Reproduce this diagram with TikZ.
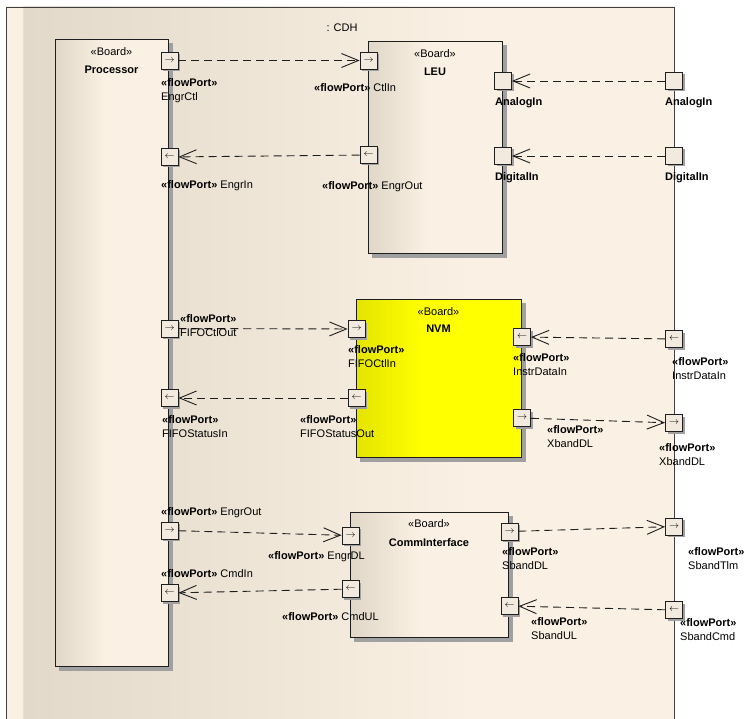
\documentclass[tikz,border=0pt]{standalone}
\usepackage{fontspec}
\setmainfont{Liberation Sans}
\usepackage{xcolor}
\usepackage{tikz}
\usetikzlibrary{arrows.meta, positioning, calc, backgrounds}

\definecolor{cream}{RGB}{250,240,227}
\definecolor{frameL}{RGB}{226,217,202}
\definecolor{boardL}{RGB}{224,215,200}
\definecolor{yellowL}{RGB}{228,228,0}
\definecolor{portfill}{RGB}{242,234,222}
\definecolor{shadowgrey}{RGB}{160,160,160}
\definecolor{edge}{RGB}{30,30,30}

\pgfdeclarehorizontalshading{frameshade}{100bp}{color(0bp)=(cream); color(26.2bp)=(cream); color(26.3bp)=(frameL); color(60bp)=(cream); color(100bp)=(cream)}
\pgfdeclarehorizontalshading{boardshade}{100bp}{color(0bp)=(boardL); color(25bp)=(boardL); color(47bp)=(cream); color(100bp)=(cream)}
\pgfdeclarehorizontalshading{nvmshade}{100bp}{color(0bp)=(yellowL); color(25bp)=(yellowL); color(45bp)=(yellow); color(100bp)=(yellow)}

\newcommand{\flowport}{\textbf{«flowPort»}}

\begin{document}
\begin{tikzpicture}[x=1pt, y=-1pt,
    every node/.style={font=\fontsize{11}{14}\selectfont},
    cdhframe/.style={draw=edge!85, line width=0.8pt, shading=frameshade, inner sep=0pt},
    board/.style={draw=edge, line width=1pt, shading=boardshade, inner sep=0pt},
    port/.style={draw=edge, line width=0.8pt, fill=portfill, minimum size=17pt, inner sep=0pt,
        font=\fontsize{10}{10}\selectfont},
    lbl/.style={anchor=north west, inner sep=0pt, align=left},
    flow/.style={draw=edge, line width=0.9pt, dash pattern=on 8pt off 5pt,
        -{Straight Barb[length=17pt, width=14pt]}}]
    \useasboundingbox (0,0) rectangle (744,719);

    % CDH frame
    \begin{scope}[on background layer]
        \node (cdh) [cdhframe, minimum width=668pt, minimum height=718pt] at (340,366) {};
    \end{scope}
    \node (cdhTitle) at (342,28) {: CDH};

    % Boards
    \node (proc) [board, minimum width=113pt, minimum height=626pt] at (111.5,353) {};
    \node (procStereo) at ($(proc.north)+(0,12)$) {«Board»};
    \node (procName) at ($(proc.north)+(0,30)$) {\textbf{Processor}};

    \node (leu) [board, minimum width=134pt, minimum height=212pt] at (435,148) {};
    \node (leuStereo) at ($(leu.north)+(0,12)$) {«Board»};
    \node (leuName) at ($(leu.north)+(0,30)$) {\textbf{LEU}};

    \node (nvm) [board, shading=nvmshade, minimum width=165pt, minimum height=158pt] at (438.5,378) {};
    \node (nvmStereo) at ($(nvm.north)+(0,13)$) {«Board»};
    \node (nvmName) at ($(nvm.north)+(0,30)$) {\textbf{NVM}};

    \node (com) [board, minimum width=158pt, minimum height=125pt] at (429,574.5) {};
    \node (comStereo) at ($(com.north)+(0,12)$) {«Board»};
    \node (comName) at ($(com.north)+(0,31)$) {\textbf{CommInterface}};

    % board shadows, above the frame
    \begin{scope}[on background layer]
        \foreach \b in {proc,leu,nvm,com}
            \fill [shadowgrey] ($(\b.south west)+(4,4)$) rectangle ($(\b.north east)+(4,4)$);
    \end{scope}

    % Ports: name / x / y / glyph
    \foreach \name/\x/\y/\g in {
        procEngrCtl/169.5/60.5/\rightarrow, procEngrIn/169.5/157/\leftarrow,
        procFIFOCtlOut/169.5/328.5/\rightarrow, procFIFOStatusIn/169.5/398/\leftarrow,
        procEngrOut/169.5/530.5/\rightarrow, procCmdIn/169.5/593/\leftarrow,
        leuCtlIn/368.5/60.5/\rightarrow, leuEngrOut/368.5/155/\leftarrow,
        leuAnalogIn/503/81/\relax, leuDigitalIn/503/156/\relax,
        nvmFIFOCtlIn/356.5/329/\rightarrow, nvmFIFOStatusOut/356.5/398/\leftarrow,
        nvmInstrDataIn/522/337/\leftarrow, nvmXbandDL/522/418/\rightarrow,
        comEngrDL/350.5/535.5/\rightarrow, comCmdUL/350.5/589/\leftarrow,
        comSbandDL/509.5/531.5/\rightarrow, comSbandUL/509.5/606/\leftarrow,
        cdhAnalogIn/674/81/\relax, cdhDigitalIn/674/156/\relax,
        cdhInstrDataIn/674/339/\leftarrow, cdhXbandDL/674/423/\rightarrow,
        cdhSbandTlm/674/526.5/\rightarrow, cdhSbandCmd/674/610/\leftarrow} {
        \fill [shadowgrey] (\x-6.5,\y-6.5) rectangle ++(17,17);
        \node (\name) [port] at (\x,\y) {$\g$};
    }

    % Flows
    \draw [flow] (procEngrCtl) -- (leuCtlIn);
    \draw [flow] (leuEngrOut) -- (procEngrIn);
    \draw [flow] (cdhAnalogIn) -- (leuAnalogIn);
    \draw [flow] (cdhDigitalIn) -- (leuDigitalIn);
    \draw [flow] (procFIFOCtlOut) -- (nvmFIFOCtlIn);
    \draw [flow] (nvmFIFOStatusOut) -- (procFIFOStatusIn);
    \draw [flow] (cdhInstrDataIn) -- (nvmInstrDataIn);
    \draw [flow] (nvmXbandDL) -- (cdhXbandDL);
    \draw [flow] (procEngrOut) -- (comEngrDL);
    \draw [flow] (comCmdUL) -- (procCmdIn);
    \draw [flow] (comSbandDL) -- (cdhSbandTlm);
    \draw [flow] (cdhSbandCmd) -- (comSbandUL);

    % Port labels
    \node (lEngrCtl) [lbl] at (161,78.5) {\flowport\\EngrCtl};
    \node (lEngrIn) [lbl] at (161,180.5) {\flowport{} EngrIn};
    \node (lFIFOCtlOut) [lbl] at (180,314.5) {\flowport\\FIFOCtlOut};
    \node (lFIFOStatusIn) [lbl] at (162,415.5) {\flowport\\FIFOStatusIn};
    \node (lEngrOut) [lbl] at (161,507.5) {\flowport{} EngrOut};
    \node (lCmdIn) [lbl] at (161,569.5) {\flowport{} CmdIn};

    \node (lCtlIn) [lbl] at (314,83.5) {\flowport{} CtlIn};
    \node (lLeuEngrOut) [lbl] at (322,181.5) {\flowport{} EngrOut};
    \node (lAnalogIn) [lbl] at (495,97.5) {\textbf{AnalogIn}};
    \node (lDigitalIn) [lbl] at (495,172.5) {\textbf{DigitalIn}};
    \node (lCdhAnalogIn) [lbl] at (665,97.5) {\textbf{AnalogIn}};
    \node (lCdhDigitalIn) [lbl] at (665,172.5) {\textbf{DigitalIn}};

    \node (lFIFOCtlIn) [lbl] at (348,345.5) {\flowport\\FIFOCtlIn};
    \node (lFIFOStatusOut) [lbl] at (300,415.5) {\flowport\\FIFOStatusOut};
    \node (lInstrDataIn) [lbl] at (513,353.5) {\flowport\\InstrDataIn};
    \node (lXbandDL) [lbl] at (547,425.5) {\flowport\\XbandDL};
    \node (lCdhInstrDataIn) [lbl] at (672,357.5) {\flowport\\InstrDataIn};
    \node (lCdhXbandDL) [lbl] at (659,443.5) {\flowport\\XbandDL};

    \node (lEngrDL) [lbl] at (268,551.5) {\flowport{} EngrDL};
    \node (lCmdUL) [lbl] at (282,612.5) {\flowport{} CmdUL};
    \node (lSbandDL) [lbl] at (502,547.5) {\flowport\\SbandDL};
    \node (lSbandUL) [lbl] at (531,617.5) {\flowport\\SbandUL};
    \node (lSbandTlm) [lbl] at (688,547.5) {\flowport\\SbandTlm};
    \node (lSbandCmd) [lbl] at (680,618.5) {\flowport\\SbandCmd};
\end{tikzpicture}
\end{document}
